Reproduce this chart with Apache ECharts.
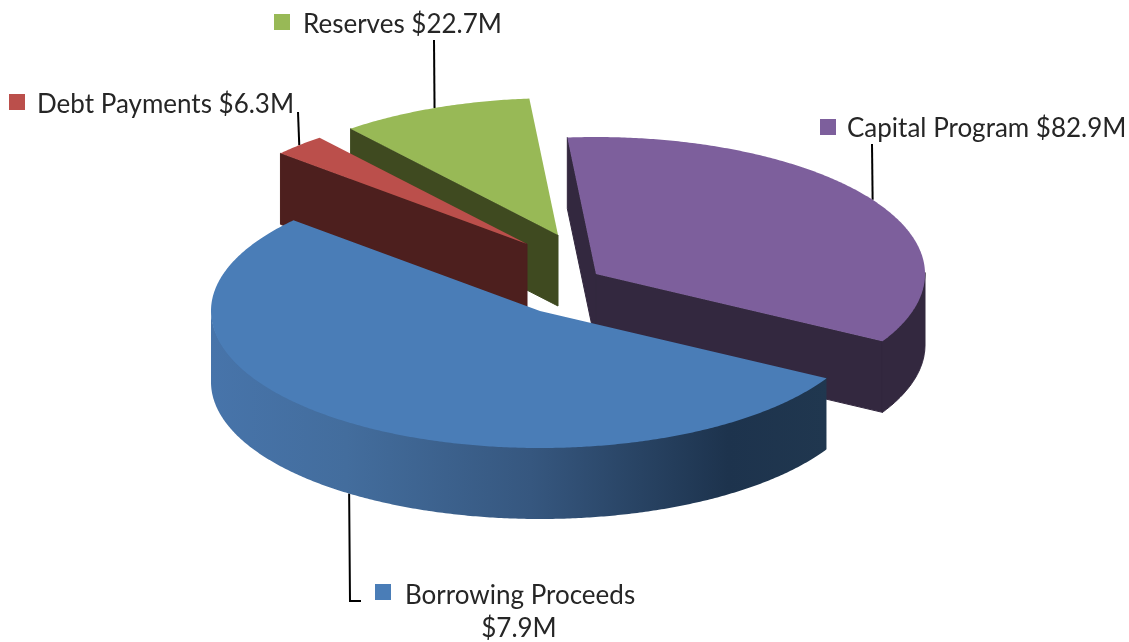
<!DOCTYPE html>
<html>
<head>
<meta charset="utf-8">
<style>html,body{margin:0;padding:0;background:#fff}#chart{width:1129px;height:642px}</style>
<script src="https://cdn.jsdelivr.net/npm/echarts@6/dist/echarts.min.js"></script>
</head>
<body>
<div id="chart"></div>
<script>
// Budget sources and uses, clockwise from the top of the pie.
const categories = ['Capital Program', 'Borrowing Proceeds', 'Debt Payments', 'Reserves'];
// Borrowing Proceeds is captioned $7.9M, but its slice is sized at an estimated 127.9,
// the share of the pie it occupies relative to the other three slices.
const values = [82.9, 127.9, 6.3, 22.7];
const valueLabels = ['$82.9M', '$7.9M', '$6.3M', '$22.7M'];

// Pie projection, in pixels.
const pie = { cx: 596, cy: 274, rx: 329, ry: 137, depth: 71, startAngle: 265 };

// Per-slice styling and placement, in the same order as the categories.
const slices = [
  { top: '#7d5f9c', side: '#33283f', offset: [0, 0], z: 20,
    leaderEnd: [872, 144], swatch: [820, 119], textAt: [847, 128.5], sep: ' ' },
  { top: '#4a7db7', side: null, offset: [-56, 37], z: 40, frontLeader: true,
    leaderEnd: [350, 601], leaderFoot: [361, 601], swatch: [375, 584], textAt: [405, 595.5],
    sep: '\n', valueAt: [519, 628.5] },
  { top: '#bb4f4b', side: '#4d1f1e', offset: [-69, -30], z: 30,
    leaderEnd: [298, 112], swatch: [9, 94], textAt: [37, 104.5], sep: ' ' },
  { top: '#98b956', side: '#3f4a20', offset: [-38, -39], z: 10,
    leaderEnd: [434, 40], swatch: [274, 14], textAt: [303, 25], sep: ' ' }
];
const swatchSize = 16;
const textStyle = { fontFamily: 'Lato, "Open Sans", sans-serif', fontSize: 26, fill: '#262626' };
const rimGradient = [
  { offset: 0, color: '#4774aa' },
  { offset: 0.22, color: '#436d9d' },
  { offset: 0.52, color: '#36577f' },
  { offset: 0.84, color: '#1d334d' },
  { offset: 1, color: '#20374f' }
];

const total = values.reduce((a, b) => a + b, 0);
const rad = d => d * Math.PI / 180;

function renderSlice(params, api) {
  const i = params.dataIndex;
  const s = slices[i];
  let before = 0;
  for (let k = 0; k < i; k++) before += values[k];
  const a0 = pie.startAngle + before / total * 360;
  const a1 = a0 + api.value(1) / total * 360;
  const ox = pie.cx + s.offset[0];
  const oy = pie.cy + s.offset[1];
  const rimPoint = (a, drop) => api.coord([ox + pie.rx * Math.cos(rad(a)), oy + pie.ry * Math.sin(rad(a)) + drop]);
  const apex = drop => api.coord([ox, oy + drop]);

  const arc = (from, to, drop) => {
    const n = Math.max(2, Math.ceil(Math.abs(to - from) * 2));
    const pts = [];
    for (let k = 0; k <= n; k++) pts.push(rimPoint(from + (to - from) * k / n, drop));
    return pts;
  };
  const children = [];
  const poly = (points, fill, z2, edge) => children.push({
    type: 'polygon', z2, shape: { points },
    style: { fill, stroke: edge || null, lineWidth: edge ? 1 : 0 }
  });

  // Leader line from the slice edge at its mid-angle out to the caption.
  const mid = (a0 + a1) / 2;
  const leader = [rimPoint(mid, s.frontLeader ? pie.depth : 0), api.coord(s.leaderEnd)];
  if (s.leaderFoot) leader.push(api.coord(s.leaderFoot));
  children.push({
    type: 'polyline', z2: 1, shape: { points: leader },
    style: { stroke: '#000', lineWidth: 2, fill: null }
  });

  // Cut faces that turn toward the viewer.
  const radial = a => [apex(0), rimPoint(a, 0), rimPoint(a, pie.depth), apex(pie.depth)];
  if (s.side && Math.cos(rad(a0)) < 0) poly(radial(a0), s.side, s.z, s.side);
  if (s.side && Math.cos(rad(a1)) > 0) poly(radial(a1), s.side, s.z, s.side);

  // Outer wall: only the part of the rim on the near half of the ellipse.
  // Its upper edge tucks under the top surface so no seam shows between them.
  for (const turn of [0, 360]) {
    const from = Math.max(a0, turn);
    const to = Math.min(a1, turn + 180);
    if (to > from) {
      const wall = arc(from, to, -1.5).concat(arc(to, from, pie.depth));
      const left = api.coord([ox - pie.rx, 0])[0];
      const right = rimPoint(from, 0)[0];
      const fill = s.side || {
        type: 'linear', global: true, x: left, y: 0, x2: right, y2: 0,
        colorStops: rimGradient
      };
      poly(wall, fill, s.z + 1, s.side);
    }
  }

  // Top surface.
  poly([apex(0)].concat(arc(a0, a1, 0)), s.top, s.z + 2);

  // Caption: colour key plus name and amount.
  const sw = api.coord(s.swatch);
  children.push({
    type: 'rect', z2: 60, shape: { x: sw[0], y: sw[1], width: swatchSize, height: swatchSize },
    style: { fill: s.top }
  });
  const at = api.coord(s.textAt);
  const inline = s.sep !== '\n';
  children.push({
    type: 'text', z2: 60, x: at[0], y: at[1],
    style: Object.assign({
      text: inline ? categories[i] + s.sep + valueLabels[i] : categories[i],
      textAlign: 'left', textVerticalAlign: 'middle'
    }, textStyle)
  });
  if (!inline) {
    const v = api.coord(s.valueAt);
    children.push({
      type: 'text', z2: 60, x: v[0], y: v[1],
      style: Object.assign({ text: valueLabels[i], textAlign: 'center', textVerticalAlign: 'middle' }, textStyle)
    });
  }
  return { type: 'group', children };
}

const chart = echarts.init(document.getElementById('chart'), null, { renderer: 'canvas' });
chart.setOption({
  animation: false,
  backgroundColor: '#ffffff',
  grid: { left: 0, right: 0, top: 0, bottom: 0 },
  xAxis: { type: 'value', min: 0, max: 1129, show: false },
  yAxis: { type: 'value', min: 0, max: 642, inverse: true, show: false },
  series: [{
    type: 'custom',
    coordinateSystem: 'cartesian2d',
    clip: false,
    silent: true,
    renderItem: renderSlice,
    encode: { x: 0, y: 1 },
    data: values.map((v, i) => [i, v])
  }]
});
</script>
</body>
</html>
